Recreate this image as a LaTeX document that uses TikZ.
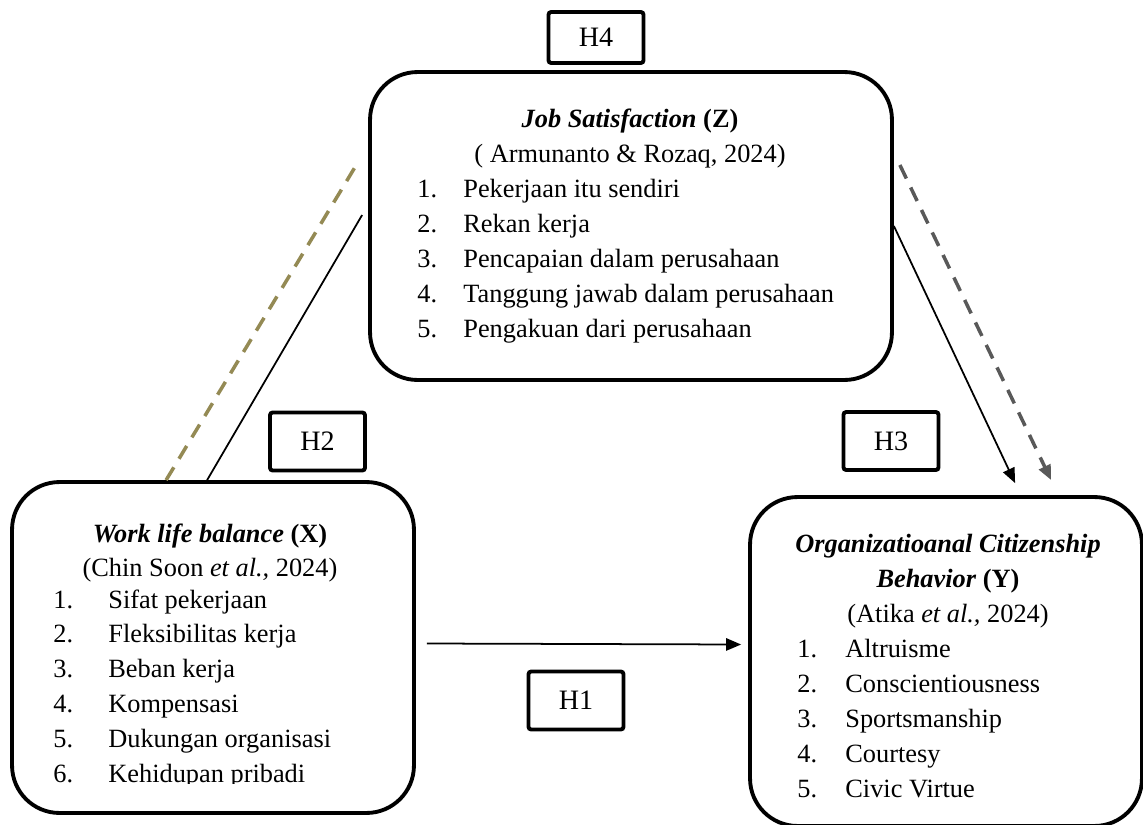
\documentclass[tikz,border=0pt]{standalone}
\usepackage{fontspec}
\setmainfont{Liberation Serif}
\usetikzlibrary{arrows.meta,calc}
\definecolor{olivedash}{RGB}{148,138,84}
\definecolor{graydash}{RGB}{89,89,89}
\begin{document}
\begin{tikzpicture}[x=0.02cm, y=-0.02cm,
    var box/.style={draw, line width=2.2pt, rounded corners=0.95cm, inner sep=0pt},
    hyp box/.style={draw, line width=2.2pt, rounded corners=1.5pt, inner sep=0pt, minimum width=1.9cm, minimum height=1.16cm, font=\fontsize{16}{19}\selectfont},
    txt/.style={inner sep=0pt, anchor=base, font=\fontsize{15}{18}\selectfont},
    item/.style={txt, anchor=base west},
    link/.style={line width=1pt},
    tip/.style={-{Triangle[length=8.5pt, width=7pt]}},
    olive line/.style={draw=olivedash, line width=2pt, dash pattern=on 8.5pt off 5.7pt},
    gray line/.style={draw=graydash, line width=2pt, dash pattern=on 8.5pt off 5.7pt}]
    \useasboundingbox (0,0) rectangle (1143,825);

    % variable boxes
    \node[var box, minimum width=10.44cm, minimum height=6.16cm](Z) at (631,226){};
    \node[var box, minimum width=8.04cm, minimum height=6.62cm](X) at (213,647.5){};
    \node[var box, minimum width=7.84cm, minimum height=6.58cm](Y) at (946,661.5){};

    % hypothesis labels
    \node[hyp box, minimum height=1.02cm](H4) at (596,37.5){H4};
    \node[hyp box](H2) at (317.5,441.5){H2};
    \node[hyp box](H3) at (891,441){H3};
    \node[hyp box](H1) at (576,700.5){H1};

    % Z
    \node[txt](Zt) at (630,127){\textbf{\textit{Job Satisfaction}} \textbf{(Z)}};
    \node[txt](Zc) at (630,162){( Armunanto \& Rozaq, 2024)};
\foreach \t [count=\i] in {Pekerjaan itu sendiri, Rekan kerja, Pencapaian dalam perusahaan, Tanggung jawab dalam perusahaan, Pengakuan dari perusahaan}{
    \node[item](Zn\i) at (417,197+35*\i-35){\i.};
    \node[item](Zi\i) at (463,197+35*\i-35){\t};}

    % X
    \node[txt](Xt) at (210,542){\textbf{\textit{Work life balance}} \textbf{(X)}};
    \node[txt](Xc) at (210,576){(Chin Soon \textit{et al.,} 2024)};
\begin{scope}
    \clip (0,0) rectangle (1143,783);
\foreach \t [count=\i] in {Sifat pekerjaan, Fleksibilitas kerja, Beban kerja, Kompensasi, Dukungan organisasi, Kehidupan pribadi}{
    \node[item](Xn\i) at (53,608+34.8*\i-34.8){\i.};
    \node[item](Xi\i) at (108,608+34.8*\i-34.8){\t};}
\end{scope}

    % Y
    \node[txt](Yt) at (948,552){\textbf{\textit{Organizatioanal Citizenship}}};
    \node[txt](Yb) at (948,587){\textbf{\textit{Behavior}} \textbf{(Y)}};
    \node[txt](Yc) at (948,622){(Atika \textit{et al.,} 2024)};
\foreach \t [count=\i] in {Altruisme, Conscientiousness, Sportsmanship, Courtesy, Civic Virtue}{
    \node[item](Yn\i) at (797,657+35.2*\i-35.2){\i.};
    \node[item](Yi\i) at (845,657+35.2*\i-35.2){\t};}

    % connectors
    \draw[olive line] ($(X.north west)+(156,0)$) -- ($(Z.west)+(-10,-64)$);
    \draw[link] ($(X.north west)+(197,0)$) -- ($(Z.west)+(-6,-11)$);
    \draw[link, tip] (Z.east) -- ($(Y.north west)+(267,-12)$);
    \draw[gray line, tip] ($(Z.east)+(6,-61)$) -- ($(Y.north west)+(303,-15)$);
    \draw[link, tip] ($(X.east)+(11,-4)$) -- ($(Y.west)+(-7,-17)$);
\end{tikzpicture}
\end{document}
